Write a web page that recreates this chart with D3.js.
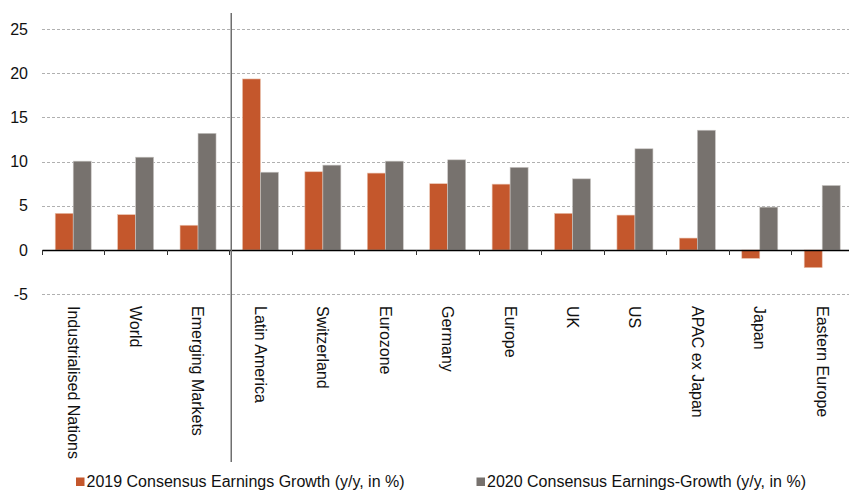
<!DOCTYPE html>
<html>
<head>
<meta charset="utf-8">
<script src="https://cdn.jsdelivr.net/npm/d3@7"></script>
<style>
    body { margin: 0; background: #fff; }
    svg { display: block; font-family: "Liberation Sans", Arial, sans-serif; }
</style>
</head>
<body>
<svg id="chart"></svg>
<script>
// categories and the two series
const categories = ["Industrialised Nations", "World", "Emerging Markets", "Latin America", "Switzerland",
    "Eurozone", "Germany", "Europe", "UK", "US", "APAC ex Japan", "Japan", "Eastern Europe"];
const growth2019 = [4.15, 4.0, 2.8, 19.35, 8.85, 8.7, 7.5, 7.45, 4.15, 3.95, 1.35, -0.95, -2.0];
const growth2020 = [10.05, 10.5, 13.2, 8.8, 9.6, 10.05, 10.2, 9.35, 8.05, 11.45, 13.55, 4.85, 7.3];
const yTicks = [-5, 0, 5, 10, 15, 20, 25];
const seriesNames = ["2019 Consensus Earnings Growth (y/y, in %)", "2020 Consensus Earnings-Growth (y/y, in %)"];

const width = 849;
const height = 490;
const left = 42;
const plotRight = 853.4;

const svg = d3.select("#chart")
    .attr("width", width)
    .attr("height", height);

const x = d3.scaleBand()
    .domain(categories)
    .range([left, plotRight]);

const y = d3.scaleLinear()
    .domain([-5, 25])
    .range([294.2, 29]);

const inner = d3.scaleBand()
    .domain([0, 1])
    .range([0, 36]);

const colors = ["#c4572c", "#77726e"];

// dashed gridlines
svg.append("g")
    .selectAll("line")
    .data(yTicks.filter(d => d !== 0))
    .enter()
    .append("line")
    .attr("x1", left)
    .attr("x2", width)
    .attr("y1", d => Math.round(y(d)) + 0.5)
    .attr("y2", d => Math.round(y(d)) + 0.5)
    .attr("stroke", "#b0b0b0")
    .attr("stroke-width", 1)
    .attr("stroke-dasharray", "3,2");

// y tick labels
svg.append("g")
    .selectAll("text")
    .data(yTicks)
    .enter()
    .append("text")
    .attr("x", 28)
    .attr("y", d => y(d))
    .attr("dy", "0.35em")
    .attr("text-anchor", "end")
    .style("font-size", "16px")
    .attr("fill", "#111")
    .text(d => d);

// bars
const groups = svg.append("g")
    .selectAll("g")
    .data(categories)
    .enter()
    .append("g")
    .attr("transform", d => `translate(${x(d) + x.bandwidth() / 2 - 18},0)`);

[growth2019, growth2020].forEach((series, s) => {
    groups.append("rect")
        .attr("x", inner(s))
        .attr("width", inner.bandwidth())
        .attr("y", (d, i) => y(Math.max(0, series[i])))
        .attr("height", (d, i) => Math.abs(y(series[i]) - y(0)))
        .attr("fill", colors[s])
        .attr("stroke", s === 0 ? "#e9c3b0" : "#c9c6c3")
        .attr("stroke-width", 0.6);
});

// zero axis with ticks between categories
svg.append("g")
    .attr("transform", `translate(0,${y(0)})`)
    .call(d3.axisBottom(x).tickSize(0).tickFormat(""))
    .call(g => g.select(".domain").attr("stroke", "#000").attr("stroke-width", 1.3));

svg.append("g")
    .selectAll("line")
    .data(categories)
    .enter()
    .append("line")
    .attr("x1", d => Math.round(x(d)) + 0.5)
    .attr("x2", d => Math.round(x(d)) + 0.5)
    .attr("y1", y(0))
    .attr("y2", y(0) + 5)
    .attr("stroke", "#333")
    .attr("stroke-width", 1);

// category labels, rotated
svg.append("g")
    .selectAll("text")
    .data(categories)
    .enter()
    .append("text")
    .attr("transform", d => `translate(${x(d) + x.bandwidth() / 2},306) rotate(90)`)
    .attr("dy", "0.35em")
    .style("font-size", "16px")
    .attr("fill", "#111")
    .text(d => d);

// separator between aggregates and regions
svg.append("line")
    .attr("x1", x(categories[3]) + 2)
    .attr("x2", x(categories[3]) + 2)
    .attr("y1", 13)
    .attr("y2", 462)
    .attr("stroke", "#6f6f6f")
    .attr("stroke-width", 1.5);

// legend
const legendX = [76, 476.5];
const legend = svg.append("g")
    .selectAll("g")
    .data(seriesNames)
    .enter()
    .append("g")
    .attr("transform", (d, i) => `translate(${legendX[i]},477.5)`);

legend.append("rect")
    .attr("width", 8.5)
    .attr("height", 8.5)
    .attr("fill", (d, i) => colors[i]);

legend.append("text")
    .attr("x", 10.5)
    .attr("y", 9)
    .style("font-size", "16px")
    .attr("fill", "#111")
    .text(d => d);
</script>
</body>
</html>
